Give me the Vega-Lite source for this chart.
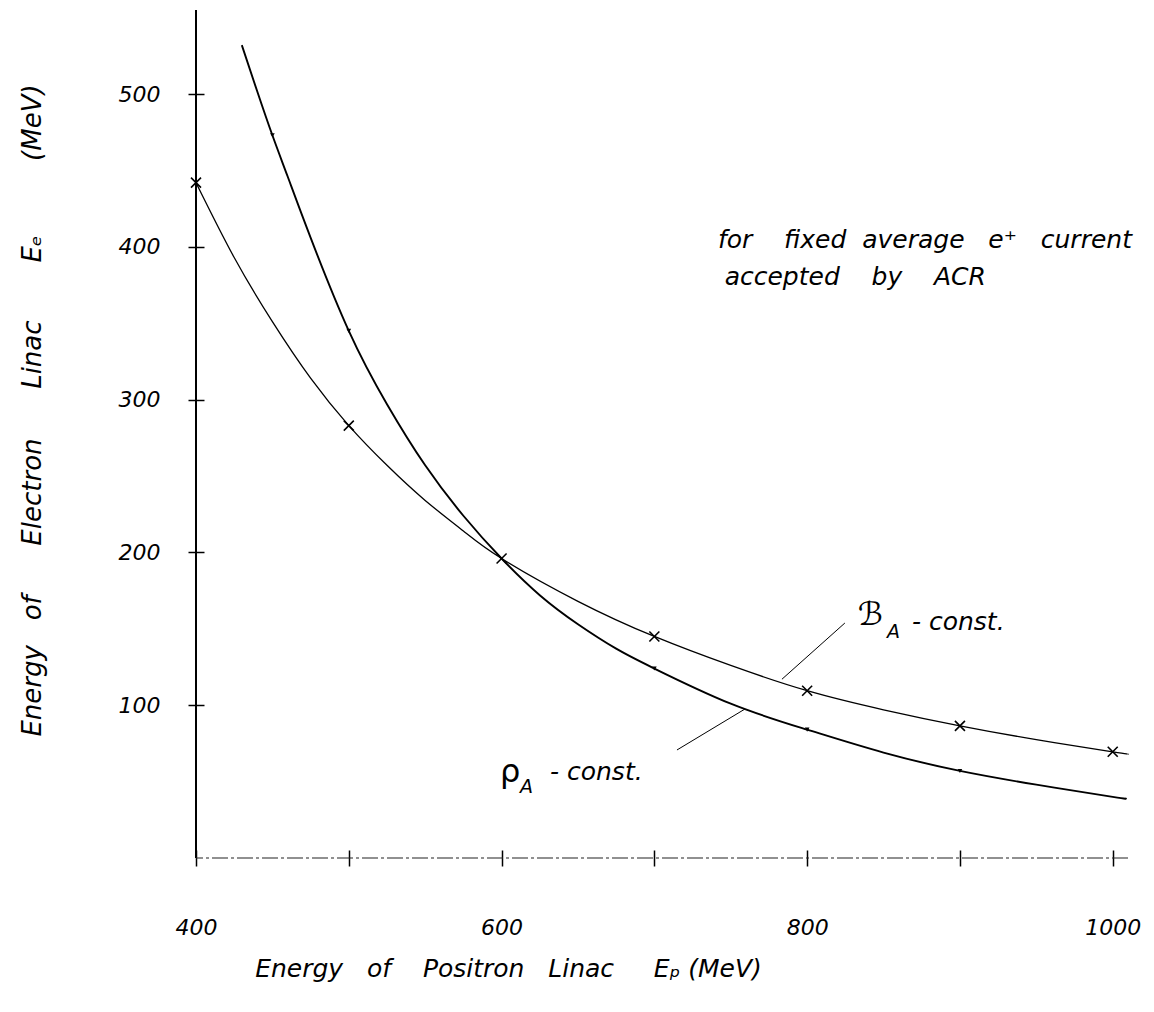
{
  "$schema": "https://vega.github.io/schema/vega-lite/v6.json",
  "width": 932,
  "height": 848,
  "autosize": {"type": "none"},
  "padding": {"left": 196, "top": 10, "right": 26, "bottom": 154},
  "background": "white",
  "config": {
    "view": {"stroke": null},
    "font": "DejaVu Sans",
    "axis": {
      "labelFont": "DejaVu Sans",
      "labelFontStyle": "italic",
      "labelFontWeight": "normal",
      "labelFontSize": 22,
      "labelColor": "black",
      "titleFont": "DejaVu Sans",
      "titleFontStyle": "italic",
      "titleFontWeight": "normal",
      "titleColor": "black",
      "tickColor": "black",
      "tickWidth": 1.5,
      "grid": false
    }
  },
  "datasets": {
    "curves": [
      {"curve": "rho", "Ep": 430, "Ee": 532},
      {"curve": "rho", "Ep": 440, "Ee": 502},
      {"curve": "rho", "Ep": 450, "Ee": 473},
      {"curve": "rho", "Ep": 460, "Ee": 446},
      {"curve": "rho", "Ep": 475, "Ee": 406},
      {"curve": "rho", "Ep": 500, "Ee": 345},
      {"curve": "rho", "Ep": 525, "Ee": 297},
      {"curve": "rho", "Ep": 550, "Ee": 257},
      {"curve": "rho", "Ep": 575, "Ee": 224},
      {"curve": "rho", "Ep": 600, "Ee": 196},
      {"curve": "rho", "Ep": 625, "Ee": 172},
      {"curve": "rho", "Ep": 650, "Ee": 153},
      {"curve": "rho", "Ep": 675, "Ee": 137},
      {"curve": "rho", "Ep": 700, "Ee": 124},
      {"curve": "rho", "Ep": 750, "Ee": 101},
      {"curve": "rho", "Ep": 800, "Ee": 84},
      {"curve": "rho", "Ep": 850, "Ee": 69},
      {"curve": "rho", "Ep": 900, "Ee": 57},
      {"curve": "rho", "Ep": 950, "Ee": 48},
      {"curve": "rho", "Ep": 1000, "Ee": 40},
      {"curve": "rho", "Ep": 1008, "Ee": 39},
      {"curve": "B", "Ep": 400, "Ee": 442},
      {"curve": "B", "Ep": 425, "Ee": 393},
      {"curve": "B", "Ep": 450, "Ee": 351},
      {"curve": "B", "Ep": 475, "Ee": 314},
      {"curve": "B", "Ep": 500, "Ee": 283},
      {"curve": "B", "Ep": 525, "Ee": 257},
      {"curve": "B", "Ep": 550, "Ee": 234},
      {"curve": "B", "Ep": 575, "Ee": 214},
      {"curve": "B", "Ep": 600, "Ee": 196},
      {"curve": "B", "Ep": 650, "Ee": 168},
      {"curve": "B", "Ep": 700, "Ee": 145},
      {"curve": "B", "Ep": 750, "Ee": 126},
      {"curve": "B", "Ep": 800, "Ee": 109.5},
      {"curve": "B", "Ep": 850, "Ee": 97},
      {"curve": "B", "Ep": 900, "Ee": 86.5},
      {"curve": "B", "Ep": 950, "Ee": 77.5},
      {"curve": "B", "Ep": 1000, "Ee": 69.5},
      {"curve": "B", "Ep": 1010, "Ee": 68}
    ],
    "crosses": [
      {"Ep": 400, "Ee": 442},
      {"Ep": 500, "Ee": 283},
      {"Ep": 600, "Ee": 196},
      {"Ep": 700, "Ee": 145},
      {"Ep": 800, "Ee": 109.5},
      {"Ep": 900, "Ee": 86.5},
      {"Ep": 1000, "Ee": 69.5}
    ],
    "ticks": [
      {"Ep": 450, "Ee": 473},
      {"Ep": 500, "Ee": 345},
      {"Ep": 700, "Ee": 124},
      {"Ep": 800, "Ee": 84},
      {"Ep": 900, "Ee": 57}
    ],
    "notes": [
      {"text": "for\u00a0\u00a0\u00a0\u00a0fixed\u00a0\u00a0average\u00a0\u00a0\u00a0e⁺\u00a0\u00a0\u00a0current", "Ep": 741.6, "Ee": 404.5},
      {"text": "accepted\u00a0\u00a0\u00a0\u00a0by\u00a0\u00a0\u00a0\u00a0ACR", "Ep": 746, "Ee": 380},
      {"text": "-\u00a0const.", "Ep": 868.6, "Ee": 154.5},
      {"text": "-\u00a0const.", "Ep": 631.7, "Ee": 56.3}
    ],
    "big": [
      {"text": "ℬ", "Ep": 833.2, "Ee": 159},
      {"text": "ρ", "Ep": 599, "Ee": 56}
    ],
    "subs": [
      {"text": "A", "Ep": 852.2, "Ee": 148},
      {"text": "A", "Ep": 612, "Ee": 46.5}
    ],
    "pointers": [
      {"Ep": 824.7, "Ee": 153.8, "Ep2": 783.5, "Ee2": 117},
      {"Ep": 714.8, "Ee": 70.7, "Ep2": 759.3, "Ee2": 97.5}
    ]
  },
  "layer": [
    {
      "data": {"name": "curves"},
      "transform": [{"filter": "datum.curve == 'B'"}],
      "mark": {"type": "line", "color": "black", "strokeWidth": 1.3, "interpolate": "natural"},
      "encoding": {
        "x": {
          "field": "Ep", "type": "quantitative",
          "scale": {"domain": [400, 1010], "nice": false, "zero": false},
          "axis": {
            "orient": "bottom", "offset": -8, "tickSize": 16, "domain": false,
            "values": [400, 500, 600, 700, 800, 900, 1000],
            "labelExpr": "datum.value % 200 == 0 ? datum.label : ''",
            "format": "d", "labelPadding": 51, "labelFlush": false,
            "title": "Energy\u00a0\u00a0\u00a0of\u00a0\u00a0\u00a0\u00a0Positron\u00a0\u00a0\u00a0Linac\u00a0\u00a0\u00a0\u00a0\u00a0Eₚ\u00a0(MeV)",
            "titleFontSize": 25,
            "titleX": 312, "titleY": 118, "titleBaseline": "middle", "titleAlign": "center"
          }
        },
        "y": {
          "field": "Ee", "type": "quantitative",
          "scale": {"domain": [0, 555], "nice": false},
          "axis": {
            "orient": "left", "offset": -8, "tickSize": 16, "domain": false,
            "values": [100, 200, 300, 400, 500],
            "format": "d", "labelPadding": 28, "labelFlush": false,
            "title": "Energy\u00a0\u00a0\u00a0of\u00a0\u00a0\u00a0\u00a0\u00a0\u00a0Electron\u00a0\u00a0\u00a0\u00a0\u00a0\u00a0Linac\u00a0\u00a0\u00a0\u00a0\u00a0\u00a0\u00a0Eₑ\u00a0\u00a0\u00a0\u00a0\u00a0\u00a0\u00a0\u00a0\u00a0(MeV)",
            "titleFontSize": 26,
            "titleX": -172, "titleY": 400, "titleBaseline": "middle", "titleAlign": "center", "titleAngle": 270
          }
        }
      }
    },
    {
      "data": {"name": "curves"},
      "transform": [{"filter": "datum.curve == 'rho'"}],
      "mark": {"type": "line", "color": "black", "strokeWidth": 1.9, "interpolate": "natural"},
      "encoding": {
        "x": {"field": "Ep", "type": "quantitative"},
        "y": {"field": "Ee", "type": "quantitative"}
      }
    },
    {
      "data": {"values": [{}]},
      "mark": {"type": "rule", "color": "black", "strokeWidth": 2},
      "encoding": {"x": {"datum": 400, "type": "quantitative"}}
    },
    {
      "data": {"values": [{}]},
      "mark": {"type": "rule", "color": "#222", "strokeWidth": 1.2, "strokeDash": [16, 3, 3, 3]},
      "encoding": {"y": {"datum": 0, "type": "quantitative"}}
    },
    {
      "data": {"name": "crosses"},
      "mark": {"type": "point", "shape": "M-1,-1L1,1M-1,1L1,-1", "filled": false, "stroke": "black", "strokeWidth": 1.6, "size": 100, "opacity": 1},
      "encoding": {
        "x": {"field": "Ep", "type": "quantitative"},
        "y": {"field": "Ee", "type": "quantitative"}
      }
    },
    {
      "data": {"name": "ticks"},
      "mark": {"type": "point", "shape": "triangle-down", "filled": true, "color": "black", "size": 22, "opacity": 1},
      "encoding": {
        "x": {"field": "Ep", "type": "quantitative"},
        "y": {"field": "Ee", "type": "quantitative"}
      }
    },
    {
      "data": {"name": "pointers"},
      "mark": {"type": "rule", "color": "black", "strokeWidth": 1},
      "encoding": {
        "x": {"field": "Ep", "type": "quantitative"},
        "y": {"field": "Ee", "type": "quantitative"},
        "x2": {"field": "Ep2"},
        "y2": {"field": "Ee2"}
      }
    },
    {
      "data": {"name": "notes"},
      "mark": {"type": "text", "align": "left", "baseline": "middle", "fontSize": 25, "fontStyle": "italic", "color": "black"},
      "encoding": {
        "x": {"field": "Ep", "type": "quantitative"},
        "y": {"field": "Ee", "type": "quantitative"},
        "text": {"field": "text"}
      }
    },
    {
      "data": {"name": "big"},
      "mark": {"type": "text", "align": "left", "baseline": "middle", "fontSize": 32, "color": "black"},
      "encoding": {
        "x": {"field": "Ep", "type": "quantitative"},
        "y": {"field": "Ee", "type": "quantitative"},
        "text": {"field": "text"}
      }
    },
    {
      "data": {"name": "subs"},
      "mark": {"type": "text", "align": "left", "baseline": "middle", "fontSize": 19, "fontStyle": "italic", "color": "black"},
      "encoding": {
        "x": {"field": "Ep", "type": "quantitative"},
        "y": {"field": "Ee", "type": "quantitative"},
        "text": {"field": "text"}
      }
    }
  ]
}
